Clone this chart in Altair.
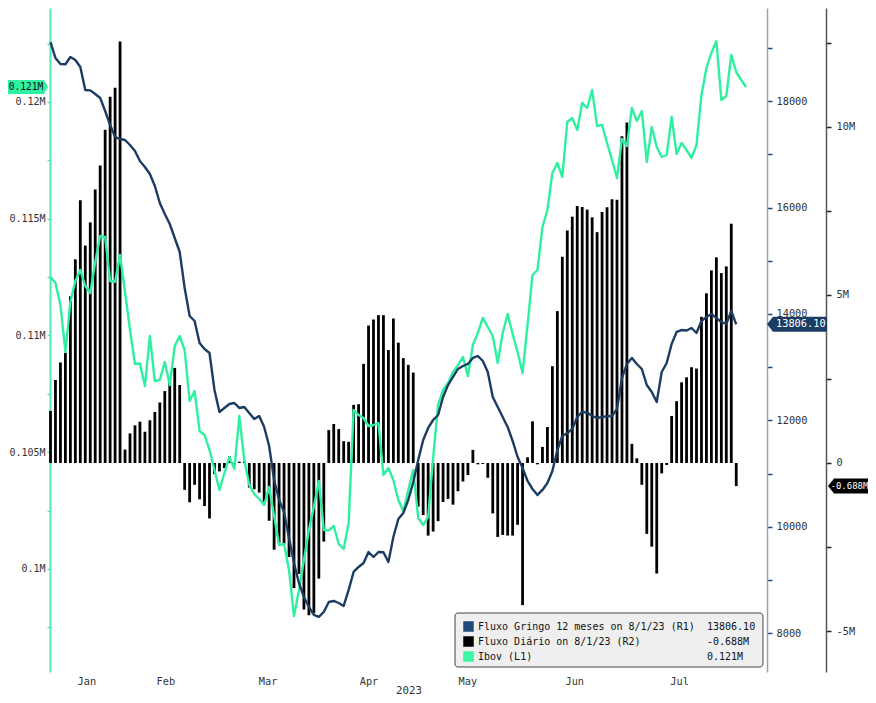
import altair as alt
import pandas as pd

FONT = "DejaVu Sans Mono"

# ---------------- data ----------------
# Fluxo Diário (R2), millions, one value per trading day
fluxo_diario = [
    1.55, 2.47, 2.99, 3.28, 4.96, 6.06, 7.82, 6.47, 7.16, 8.14, 8.85, 9.92, 10.90, 11.17, 12.54,
    0.40, 0.88, 1.12, 1.23, 0.93, 1.27, 1.52, 1.80, 2.14, 2.39, 2.83, 2.32,
    -0.80, -1.17, -0.65, -1.08, -1.28, -1.65, -0.33, -0.25, -0.15, 0.20, -0.08, 0.04, 0.05,
    -0.73, -0.78, -0.88, -1.15, -1.72, -2.58, -2.38, -2.40, -2.80, -3.72, -3.30, -4.36, -4.53, -4.47, -3.44, -2.34,
    0.98, 1.16, 1.01, 0.65, 0.63, 1.73, 1.75, 2.95, 4.09, 4.27, 4.40, 4.40, 3.36, 4.30, 3.58, 3.12, 2.92, 2.69,
    -1.30, -1.55, -2.16, -2.04, -1.73, -1.16, -1.07, -1.24, -0.84, -0.55, -0.36,
    0.39, -0.04, -0.03, -0.44, -1.50, -2.20, -2.14, -2.16, -2.16, -1.84, -4.23,
    0.17, 1.24, -0.04, 0.48, 1.07, 2.88, 4.52, 6.14, 6.92, 7.33, 7.65, 7.62, 7.54, 7.31, 6.87, 7.47, 7.61, 7.85, 7.83, 9.72, 10.13,
    0.57, 0.14, -0.65, -2.11, -2.49, -3.29, -0.31, -0.06,
    1.40, 1.84, 2.40, 2.55, 2.85, 2.81, 4.35, 5.05, 5.73, 6.12, 5.65, 5.85, 7.12, -0.688,
]

# Ibov (L1)
ibov = [
    112505, 112248, 111306, 109293, 111434, 112333, 112805, 112119, 111819, 113147,
    114261, 114220, 112333, 112300, 113447, 111862, 110235, 108779, 108800, 107836,
    109978, 108050, 108093, 108864, 107879, 109549, 109978, 109378, 107194, 107622,
    105909, 105738, 105095, 104239, 103382, 104110, 104795, 104281, 106551, 104667,
    103596, 103211, 102996, 102740, 103510, 102268, 101026, 101069, 99956, 97985,
    99099, 100384, 101669, 102654, 103767, 101669, 101650, 101840, 101069, 100855,
    101969, 106808, 106594, 106466, 106123, 106166, 106252, 104024, 104324, 103810,
    102954, 102483, 103382, 104239, 102183, 101883, 102226, 104753, 107023, 107665,
    107965, 108436, 108736, 109078, 108265, 109592, 110106, 110749, 110363, 109978,
    108821, 110106, 110920, 110063, 109293, 108393, 110449, 112590, 112805, 114646,
    115374, 116959, 117387, 116788, 119143, 119315, 118801, 119957, 119743, 120514,
    118972, 119015, 118244, 117516, 116745, 118415, 118115, 119743, 119186, 119615,
    117430, 118929, 118073, 117644, 117730, 119358, 117773, 118244, 117944, 117602,
    118158, 120300, 121456, 122099, 122613, 120086, 120257, 122013, 121285, 120942,
    120642,
]

# Fluxo Gringo 12 meses (R1)
gringo = [
    19108, 18808, 18695, 18690, 18826, 18770, 18639, 18207, 18200, 18131,
    18056, 17812, 17549, 17324, 17286, 17268, 17174, 17061, 16873, 16761,
    16629, 16404, 16084, 15878, 15690, 15427, 15164, 14488, 13962, 13868,
    13455, 13343, 13267, 12573, 12159, 12235, 12310, 12328, 12235, 12253,
    12141, 12028, 12084, 11878, 11521, 10882, 10507, 10281, 9793, 9324,
    8948, 8685, 8497, 8347, 8310, 8403, 8591, 8610, 8572, 8516,
    8817, 9155, 9249, 9324, 9530, 9436, 9530, 9525, 9342, 9812,
    10150, 10263, 10507, 10845, 11258, 11634, 11859, 12009, 12103, 12441,
    12666, 12817, 12967, 13023, 13061, 13174, 13211, 13117, 12911, 12441,
    12253, 12066, 11878, 11615, 11314, 11108, 10864, 10713, 10601, 10695,
    10826, 11051, 11446, 11709, 11765, 11840, 12066, 12159, 12150, 12084,
    12047, 12066, 12080, 12084, 12216, 12798, 13061, 13174, 13061, 12967,
    12666, 12535, 12347, 12911, 13080, 13436, 13662, 13699, 13690, 13737,
    13643, 13868, 13944, 14000, 13925, 13850, 13812, 14056, 13806.10,
]

month_names = ["Jan", "Feb", "Mar", "Apr", "May", "Jun", "Jul"]
month_pos = [7.2, 23.1, 43.7, 64.0, 83.9, 105.4, 126.5]

legend_names = [
    "Fluxo Gringo 12 meses on 8/1/23 (R1)",
    "Fluxo Diário on 8/1/23 (R2)",
    "Ibov (L1)",
]
legend_values = [
    f"{gringo[-1]:.2f}",
    f"{fluxo_diario[-1]:.3f}M",
    f"{ibov[-1] / 1e6:.3f}M",
]

# ---------------- styles ----------------
C_GREEN = "#2ef0a0"
C_GREEN_AXIS = "#55e8b6"
C_BLUE = "#1c3d63"
C_BLUE_SQ = "#1f4a7a"
legend_colors = [C_BLUE_SQ, "#000000", "#3cf5a6"]

TAG_RIGHT = "M-1,-0.35 L0.8,-0.35 L1,0 L0.8,0.35 L-1,0.35 Z"
TAG_LEFT = "M-1,0 L-0.8,-0.25 L1,-0.25 L1,0.25 L-0.8,0.25 Z"

# ---------------- tables ----------------
bars_df = pd.DataFrame({"i": list(range(len(fluxo_diario))), "fluxo": fluxo_diario})
ibov_df = pd.DataFrame({"i": list(range(len(ibov))), "ibov": ibov})
gringo_df = pd.DataFrame({"i": list(range(len(gringo))), "gringo": gringo})

last_fluxo = pd.DataFrame({"fluxo": [fluxo_diario[-1]], "label": [legend_values[1]]})
last_ibov = pd.DataFrame({"ibov": [ibov[-1]], "label": [legend_values[2]]})
last_gringo = pd.DataFrame({"gringo": [gringo[-1]], "label": [legend_values[0]]})
legend_df = pd.DataFrame({"name": legend_names, "value": legend_values, "color": legend_colors})

# ---------------- encodings ----------------
month_expr = "".join(
    f"abs(datum.value - {p}) < 0.5 ? '{m}' : " for p, m in zip(month_pos, month_names)
) + "''"

x_axis = alt.Axis(
    values=month_pos, labelExpr=month_expr, title="2023",
    domain=False, ticks=False, tickSize=0, grid=False,
    labelFont=FONT, labelFontSize=10.3, labelColor="#333", labelPadding=4,
    labelFlush=False, labelOverlap=False,
    titleFont=FONT, titleFontSize=10.8, titleFontWeight="normal", titleColor="#333",
    titleBaseline="alphabetic", titleY=21,
)
X = alt.X("i:Q", scale=alt.Scale(domain=[-0.1, 144.19], nice=False, zero=False, padding=0), axis=x_axis)

ibov_axis = alt.Axis(
    orient="left", values=list(range(97500, 125000, 2500)),
    labelExpr="datum.value % 5000 == 0 ? format(datum.value / 1000000, '.3~f') + 'M' : ''",
    domainColor=C_GREEN_AXIS, domainWidth=2, tickColor=C_GREEN_AXIS, tickSize=3, tickWidth=1.5,
    labelFont=FONT, labelFontSize=10, labelColor="#333", labelPadding=2,
    labelFlush=False, labelOverlap=False, grid=False, title=None,
)
Y_ibov = alt.Y("ibov:Q", scale=alt.Scale(domain=[95587, 124026], nice=False, zero=False), axis=ibov_axis)

gringo_axis = alt.Axis(
    orient="right", values=list(range(8000, 20000, 1000)),
    labelExpr="datum.value % 2000 == 0 ? '' + datum.value : ''",
    domainColor="#8fa7bd", domainWidth=1.5, tickColor=C_BLUE_SQ, tickSize=5, tickWidth=1.5,
    labelFont=FONT, labelFontSize=10.3, labelColor="#333", labelPadding=4,
    labelFlush=False, labelOverlap=False, grid=False, title=None,
)
Y_gringo = alt.Y("gringo:Q", scale=alt.Scale(domain=[7276, 19747], nice=False, zero=False), axis=gringo_axis)

fluxo_axis = alt.Axis(
    orient="right", offset=59, values=[-5, -2.5, 0, 2.5, 5, 7.5, 10, 12.5],
    labelExpr="datum.value % 5 == 0 ? (datum.value == 0 ? '0' : datum.value + 'M') : ''",
    domainColor="#555", domainWidth=1.5, tickColor="#222", tickSize=5, tickWidth=1.5,
    labelFont=FONT, labelFontSize=10.3, labelColor="#333", labelPadding=5,
    labelFlush=False, labelOverlap=False, grid=False, title=None,
)
Y_fluxo = alt.Y("fluxo:Q", scale=alt.Scale(domain=[-6.22, 13.54], nice=False, zero=False), axis=fluxo_axis)

# ---------------- layers ----------------
bars = alt.Chart(bars_df).mark_bar(color="black", size=2.8).encode(x=X, y=Y_fluxo, y2=alt.datum(0))
fluxo_tag = alt.Chart(last_fluxo).mark_point(
    shape=TAG_LEFT, filled=True, color="black", opacity=1, size=3600, strokeWidth=0
).encode(x=alt.value(808), y=Y_fluxo)
fluxo_tag_text = alt.Chart(last_fluxo).mark_text(
    align="left", baseline="middle", font=FONT, fontSize=9, color="white"
).encode(x=alt.value(780.5), y=Y_fluxo, text="label:N")
fluxo_layer = alt.layer(bars, fluxo_tag, fluxo_tag_text)

ibov_line = alt.Chart(ibov_df).mark_line(color=C_GREEN, strokeWidth=2.4, strokeJoin="round").encode(x=X, y=Y_ibov)
ibov_tag = alt.Chart(last_ibov).mark_point(
    shape=TAG_RIGHT, filled=True, color="#2ef2a2", opacity=1, size=1600, strokeWidth=0
).encode(x=alt.value(-22), y=Y_ibov)
ibov_tag_text = alt.Chart(last_ibov).mark_text(
    align="center", baseline="middle", font=FONT, fontSize=9.6, color="#111"
).encode(x=alt.value(-24), y=Y_ibov, text="label:N")
ibov_layer = alt.layer(ibov_line, ibov_tag, ibov_tag_text)

gringo_line = alt.Chart(gringo_df).mark_line(color=C_BLUE, strokeWidth=2.4, strokeJoin="round").encode(x=X, y=Y_gringo)
gringo_tag = alt.Chart(last_gringo).mark_point(
    shape=TAG_LEFT, filled=True, color=C_BLUE, opacity=1, size=3600, strokeWidth=0
).encode(x=alt.value(747), y=Y_gringo)
gringo_tag_text = alt.Chart(last_gringo).mark_text(
    align="left", baseline="middle", font=FONT, fontSize=10.3, color="white"
).encode(x=alt.value(726), y=Y_gringo, text="label:N")
gringo_layer = alt.layer(gringo_line, gringo_tag, gringo_tag_text)

Y_leg = alt.Y("name:N", scale=alt.Scale(type="point", domain=legend_names, range=[618.5, 648.5], padding=0), axis=None)
legend_box = alt.Chart(pd.DataFrame({"box": [0]})).mark_rect(
    fill="#efefef", stroke="#444", strokeWidth=1, cornerRadius=3
).encode(x=alt.value(405), x2=alt.value(713), y=alt.value(605), y2=alt.value(659))
legend_swatch = alt.Chart(legend_df).mark_point(shape="square", filled=True, size=110, opacity=1).encode(
    x=alt.value(418.5), y=Y_leg, color=alt.Color("color:N", scale=None, legend=None)
)
legend_text = alt.Chart(legend_df).mark_text(
    align="left", baseline="middle", font=FONT, fontSize=10, color="#111"
).encode(x=alt.value(428), y=Y_leg, text="name:N")
legend_value = alt.Chart(legend_df).mark_text(
    align="left", baseline="middle", font=FONT, fontSize=10, color="#111"
).encode(x=alt.value(657), y=Y_leg, text="value:N")
legend_layer = alt.layer(legend_box, legend_swatch, legend_text, legend_value)

chart = (
    alt.layer(fluxo_layer, ibov_layer, gringo_layer, legend_layer)
    .resolve_scale(y="independent")
    .resolve_axis(y="independent")
    .properties(
        width=717, height=664,
        autosize=alt.AutoSizeParams(type="none"),
        padding={"left": 42, "top": 0, "right": 101, "bottom": 23},
    )
    .configure_view(stroke=None)
)

chart.save("out.html", embed_options={"renderer": "svg", "actions": False})
